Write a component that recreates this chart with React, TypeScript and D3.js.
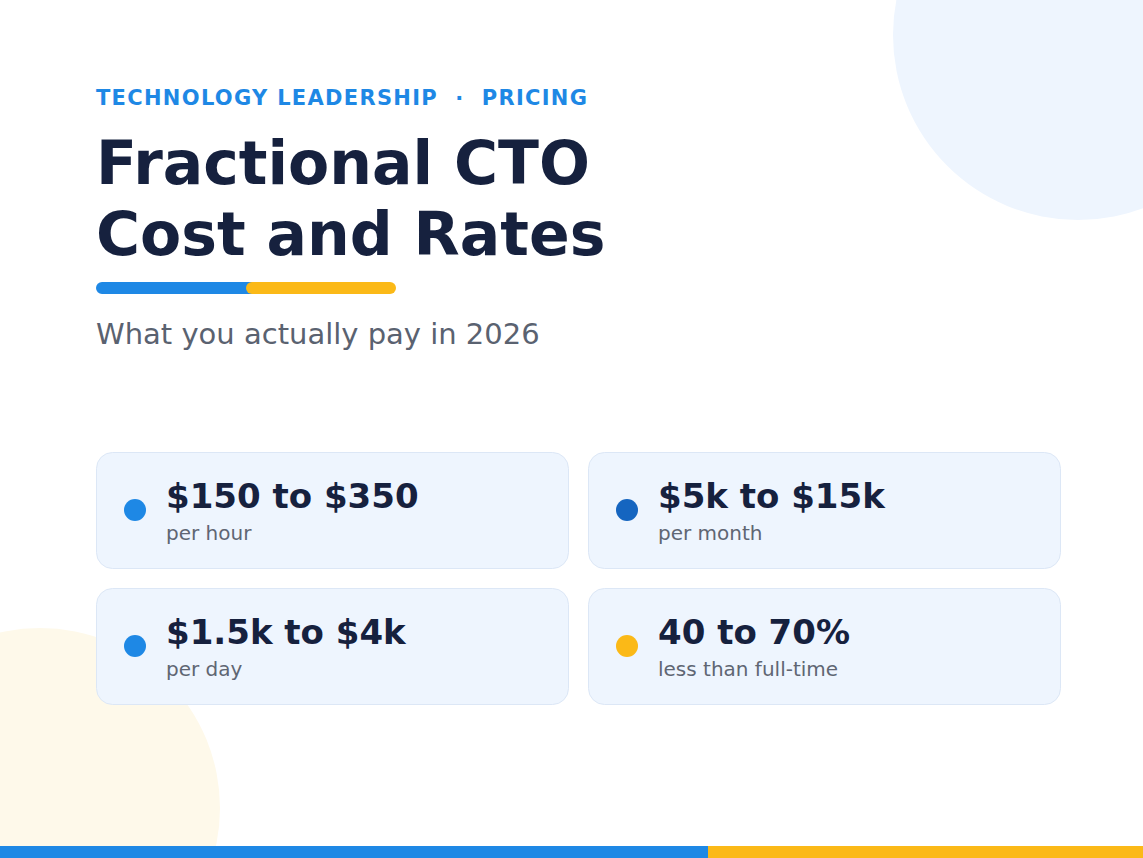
import React, { useEffect, useRef } from 'react';
import * as d3 from 'd3';

// Card contents
const values = ['$150 to $350', '$5k to $15k', '$1.5k to $4k', '40 to 70%'];
const labels = ['per hour', 'per month', 'per day', 'less than full-time'];
const dotColors = ['#1E88E5', '#1565C0', '#1E88E5', '#FBB917'];

const eyebrow = 'TECHNOLOGY LEADERSHIP  ·  PRICING';
const titleLines = ['Fractional CTO', 'Cost and Rates'];
const subtitle = 'What you actually pay in 2026';

const W = 1143;
const H = 858;
const FONT = "'DejaVu Sans', sans-serif";

const App: React.FC = () => {
  const ref = useRef<SVGSVGElement>(null);

  useEffect(() => {
    if (!ref.current) return;
    document.body.style.margin = '0';
    const svg = d3.select(ref.current);
    svg.selectAll('*').remove();

    svg.append('rect').attr('width', W).attr('height', H).attr('fill', '#fff');

    // decorative circles
    svg.append('circle').attr('cx', 1078).attr('cy', 35).attr('r', 185).attr('fill', '#EEF5FE');
    svg.append('circle').attr('cx', 40).attr('cy', 808).attr('r', 180).attr('fill', '#FEF9EA');

    // eyebrow
    svg.append('text')
      .attr('x', 96).attr('y', 105)
      .attr('fill', '#1E88E5')
      .style('font-family', FONT)
      .style('font-weight', 700)
      .style('font-size', '21px')
      .style('letter-spacing', '1.3px')
      .style('white-space', 'pre')
      .text(eyebrow);

    // title
    svg.selectAll('.title')
      .data(titleLines)
      .enter().append('text')
      .attr('class', 'title')
      .attr('x', 96)
      .attr('y', (_, i) => 184 + i * 71)
      .attr('fill', '#16213E')
      .style('font-family', FONT)
      .style('font-weight', 700)
      .style('font-size', '60px')
      .text(d => d);

    // accent bar
    svg.append('rect').attr('x', 96).attr('y', 282).attr('width', 162).attr('height', 12).attr('rx', 6).attr('fill', '#1E88E5');
    svg.append('rect').attr('x', 246).attr('y', 282).attr('width', 150).attr('height', 12).attr('rx', 6).attr('fill', '#FBB917');

    svg.append('text')
      .attr('x', 96).attr('y', 344)
      .attr('fill', '#5A6270')
      .style('font-family', FONT)
      .style('font-size', '29px')
      .text(subtitle);

    // cards grid
    const x = d3.scaleBand<number>().domain([0, 1]).range([96, 1080]);
    const y = d3.scaleBand<number>().domain([0, 1]).range([452, 724]);
    const cw = 472;
    const ch = 116;

    const cards = svg.selectAll('.card')
      .data(values.map((v, i) => ({ v, label: labels[i], color: dotColors[i], col: i % 2, row: Math.floor(i / 2) })))
      .enter().append('g')
      .attr('class', 'card')
      .attr('transform', d => `translate(${x(d.col)},${y(d.row)})`);

    cards.append('rect')
      .attr('x', 0.5).attr('y', 0.5)
      .attr('width', cw).attr('height', ch)
      .attr('rx', 16)
      .attr('fill', '#EEF5FE')
      .attr('stroke', '#DCE7F6')
      .attr('stroke-width', 1);

    cards.append('circle')
      .attr('cx', 39).attr('cy', ch / 2)
      .attr('r', 11)
      .attr('fill', d => d.color);

    cards.append('text')
      .attr('x', 70).attr('y', 56)
      .attr('fill', '#16213E')
      .style('font-family', FONT)
      .style('font-weight', 700)
      .style('font-size', '34px')
      .text(d => d.v);

    cards.append('text')
      .attr('x', 70).attr('y', 88)
      .attr('fill', '#5F6673')
      .style('font-family', FONT)
      .style('font-size', '20px')
      .text(d => d.label);

    // bottom stripe
    svg.append('rect').attr('x', 0).attr('y', 846).attr('width', 708).attr('height', 12).attr('fill', '#1E88E5');
    svg.append('rect').attr('x', 708).attr('y', 846).attr('width', W - 708).attr('height', 12).attr('fill', '#FBB917');
  }, []);

  return (
    <div style={{ position: 'absolute', left: 0, top: 0 }}>
      <svg ref={ref} width={W} height={H} style={{ display: 'block' }} />
    </div>
  );
};

export default App;
